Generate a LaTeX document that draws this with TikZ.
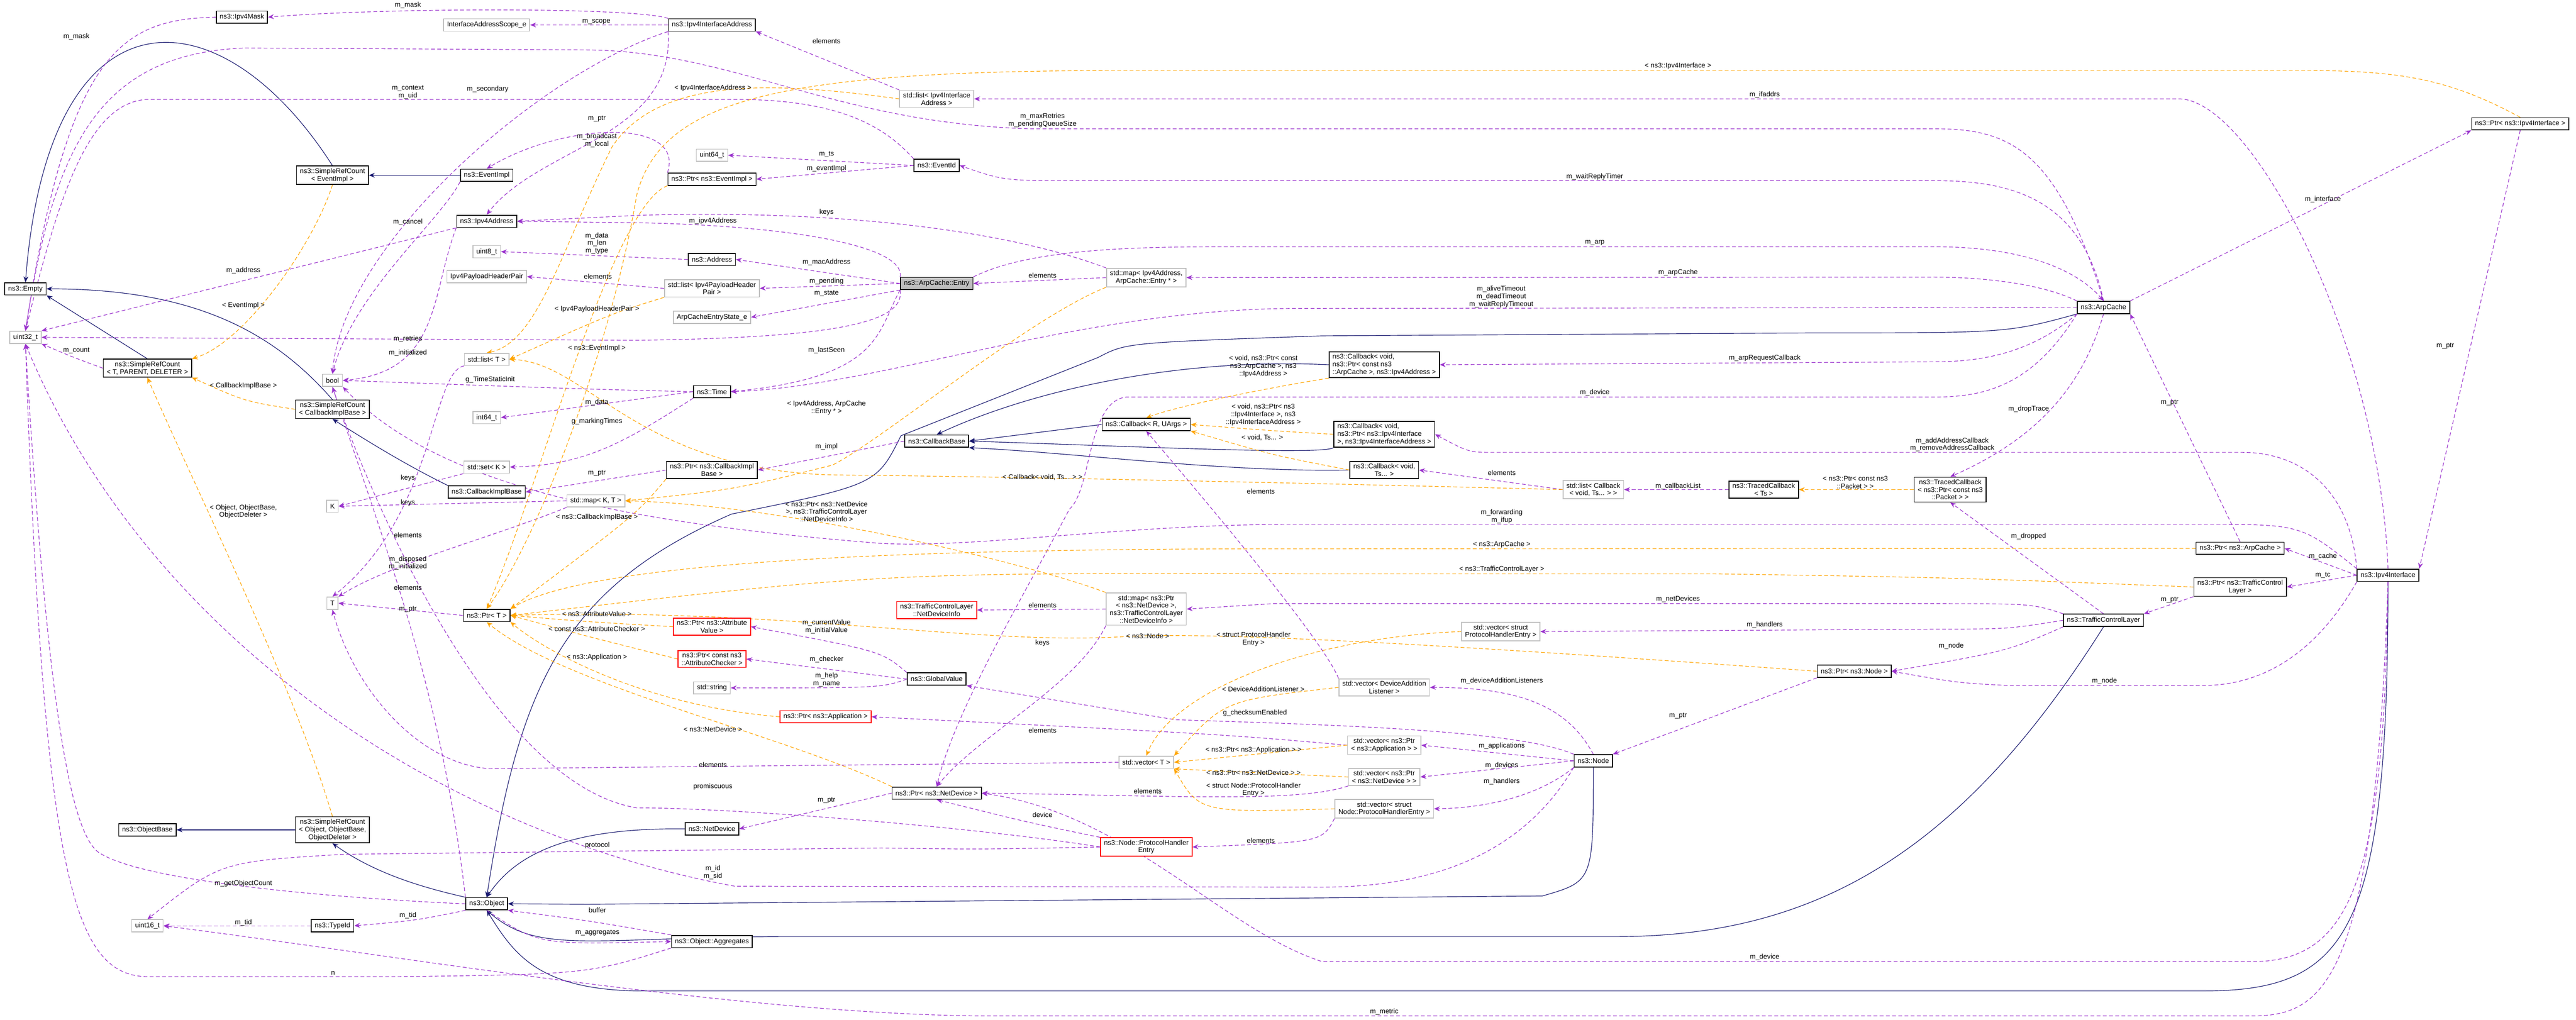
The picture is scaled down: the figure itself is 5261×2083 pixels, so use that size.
\documentclass[tikz,border=0pt]{standalone}
\usepackage{fontspec}
\setmainfont{Liberation Sans}
\usetikzlibrary{arrows.meta}
\pgfdeclarelayer{edges}
\pgfdeclarelayer{bg}
\pgfsetlayers{bg,edges,main}
\definecolor{mem}{HTML}{9A32CD}
\definecolor{tpl}{HTML}{FFA500}
\definecolor{inh}{HTML}{191970}
\tikzset{
  base/.style={font=\fontsize{4}{4.4}\selectfont, align=center, inner xsep=2pt, inner ysep=1.3pt, minimum height=0.25cm, fill=white},
  cls/.style={base, draw=black, line width=0.5pt},
  gry/.style={base, draw=black!25, line width=0.5pt},
  red/.style={base, draw=red, line width=0.5pt},
  sel/.style={base, draw=black, fill=black!25, line width=0.5pt},
  lbl/.style={font=\fontsize{4}{4.4}\selectfont, align=center, inner sep=0pt},
  memb/.style={draw=mem, line width=0.35pt, dash pattern=on 2.2pt off 1.4pt, -{Stealth[length=3.4pt,width=2.8pt]}},
  tmpl/.style={draw=tpl, line width=0.35pt, dash pattern=on 2.2pt off 1.4pt, -{Stealth[length=3.4pt,width=2.8pt]}},
  inhr/.style={draw=inh, line width=0.35pt, -{Stealth[length=3.4pt,width=2.8pt]}},
}
\begin{document}
\begin{tikzpicture}[x=0.01cm,y=-0.01cm]
\begin{pgfonlayer}{bg}
\fill[white] (0,0) rectangle (5261,2083);
\end{pgfonlayer}
\useasboundingbox (0,0) rectangle (5261,2083);
% nodes
\node[cls] (ipv4mask) at (494,35) {ns3::Ipv4Mask};
\node[gry] (scope) at (994,51) {InterfaceAddressScope\_e};
\node[cls] (srcev) at (679,358) {ns3::SimpleRefCount\\< EventImpl >};
\node[cls] (eventimpl) at (994,358) {ns3::EventImpl};
\node[cls] (ipv4addr) at (994,452) {ns3::Ipv4Address};
\node[gry] (uint8) at (994,514) {uint8\_t};
\node[gry] (phpair) at (994,565) {Ipv4PayloadHeaderPair};
\node[cls] (empty) at (52,590) {ns3::Empty};
\node[gry] (uint32) at (52,689) {uint32\_t};
\node[cls] (srctpd) at (301,752) {ns3::SimpleRefCount\\< T, PARENT, DELETER >};
\node[gry] (listT) at (994,734) {std::list< T >};
\node[gry] (bool) at (679,777) {bool};
\node[cls] (srccb) at (679,836) {ns3::SimpleRefCount\\< CallbackImplBase >};
\node[gry] (int64) at (994,853) {int64\_t};
\node[gry] (setK) at (994,954) {std::set< K >};
\node[cls] (cbimpl) at (994,1005) {ns3::CallbackImplBase};
\node[gry] (K) at (679,1034) {K};
\node[gry] (mapKT) at (1217,1023) {std::map< K, T >};
\node[cls] (ifaddr) at (1454,51) {ns3::Ipv4InterfaceAddress};
\node[gry] (listifa) at (1913,202) {std::list< Ipv4Interface\\Address >};
\node[gry] (uint64) at (1454,317) {uint64\_t};
\node[cls] (eventid) at (1913,338) {ns3::EventId};
\node[cls] (ptrev) at (1454,366) {ns3::Ptr< ns3::EventImpl >};
\node[cls] (address) at (1454,530) {ns3::Address};
\node[sel] (entry) at (1913,579) {ns3::ArpCache::Entry};
\node[gry] (listph) at (1454,589) {std::list< Ipv4PayloadHeader\\Pair >};
\node[gry] (mapip) at (2341,567) {std::map< Ipv4Address,\\ ArpCache::Entry * >};
\node[gry] (state) at (1454,648) {ArpCacheEntryState\_e};
\node[cls] (time) at (1454,800) {ns3::Time};
\node[cls] (cbR) at (2341,867) {ns3::Callback< R, UArgs >};
\node[cls] (cbbase) at (1913,901) {ns3::CallbackBase};
\node[cls] (ptrcbi) at (1454,960) {ns3::Ptr< ns3::CallbackImpl\\Base >};
\node[cls, align=left] (cbarp) at (2827,745) {ns3::Callback< void,\\ ns3::Ptr< const ns3\\::ArpCache >, ns3::Ipv4Address >};
\node[cls, align=left] (cbif) at (2827,887) {ns3::Callback< void,\\ ns3::Ptr< ns3::Ipv4Interface\\ >, ns3::Ipv4InterfaceAddress >};
\node[cls] (cbts) at (2827,960) {ns3::Callback< void,\\ Ts... >};
\node[gry] (listcb) at (3254,1000) {std::list< Callback\\< void, Ts... > >};
\node[cls] (tcts) at (3602,1000) {ns3::TracedCallback\\< Ts >};
\node[cls] (ptrif) at (5147,253) {ns3::Ptr< ns3::Ipv4Interface >};
\node[cls] (arpcache) at (4296,628) {ns3::ArpCache};
\node[cls] (tcpkt) at (3983,1000) {ns3::TracedCallback\\< ns3::Ptr< const ns3\\::Packet > >};
\node[gry] (T) at (679,1232) {T};
\node[cls] (ptrT) at (994,1257) {ns3::Ptr< T >};
\node[cls] (objbase) at (301,1695) {ns3::ObjectBase};
\node[cls] (srcobj) at (679,1695) {ns3::SimpleRefCount\\< Object, ObjectBase,\\ ObjectDeleter >};
\node[cls] (object) at (994,1846) {ns3::Object};
\node[gry] (uint16) at (301,1891) {uint16\_t};
\node[cls] (typeid) at (679,1891) {ns3::TypeId};
\node[red] (ndinfo) at (1913,1246) {ns3::TrafficControlLayer\\::NetDeviceInfo};
\node[gry] (mapnd) at (2341,1244) {std::map< ns3::Ptr\\< ns3::NetDevice >,\\ ns3::TrafficControlLayer\\::NetDeviceInfo >};
\node[red] (ptrav) at (1454,1280) {ns3::Ptr< ns3::Attribute\\Value >};
\node[red] (ptrac) at (1454,1346) {ns3::Ptr< const ns3\\::AttributeChecker >};
\node[cls] (globalv) at (1913,1387) {ns3::GlobalValue};
\node[gry] (string) at (1454,1405) {std::string};
\node[red] (ptrapp) at (1686,1464) {ns3::Ptr< ns3::Application >};
\node[gry] (vecT) at (2341,1557) {std::vector< T >};
\node[cls] (ptrnd) at (1913,1620) {ns3::Ptr< ns3::NetDevice >};
\node[cls] (netdev) at (1454,1693) {ns3::NetDevice};
\node[red] (phe) at (2341,1730) {ns3::Node::ProtocolHandler\\Entry};
\node[cls] (aggr) at (1454,1923) {ns3::Object::Aggregates};
\node[gry] (vecphe) at (3065,1290) {std::vector< struct\\ ProtocolHandlerEntry >};
\node[cls] (ptrnode) at (3787,1371) {ns3::Ptr< ns3::Node >};
\node[gry] (vecdal) at (2827,1404) {std::vector< DeviceAddition\\Listener >};
\node[gry] (vecapp) at (2827,1522) {std::vector< ns3::Ptr\\< ns3::Application > >};
\node[cls] (node) at (3254,1554) {ns3::Node};
\node[gry] (vecnd) at (2827,1587) {std::vector< ns3::Ptr\\< ns3::NetDevice > >};
\node[gry] (vecnphe) at (2827,1652) {std::vector< struct\\ Node::ProtocolHandlerEntry >};
\node[cls] (ptrarp) at (4575,1120) {ns3::Ptr< ns3::ArpCache >};
\node[cls] (ptrtc) at (4575,1199) {ns3::Ptr< ns3::TrafficControl\\Layer >};
\node[cls] (tcl) at (4296,1267) {ns3::TrafficControlLayer};
\node[cls] (ipv4if) at (4877,1175) {ns3::Ipv4Interface};

\begin{pgfonlayer}{edges}
% inheritance
\draw[inhr] (srcev.north) .. controls (450,-20) and (100,-40) .. (empty.north);
\draw[inhr] (eventimpl) -- (srcev);
\draw[inhr] (srctpd.north) -- (empty.south east);
\draw[inhr] (srccb.north) .. controls (560,680) and (400,590) .. (empty.east);
\draw[inhr] (cbimpl.north west) .. controls (850,960) and (780,920) .. (srccb.south);
\draw[inhr] (srcobj) -- (objbase);
\draw[inhr] (object.north west) .. controls (850,1810) and (760,1780) .. (srcobj.south);
\draw[inhr] (netdev.west) .. controls (1150,1690) and (1050,1750) .. (object.north);
\draw[inhr] (arpcache.south west) .. controls (4100,680) .. (3700,680) -- (2700,686) .. controls (2300,700) .. (2243,730) -- (1840,890) .. controls (1790,990) .. (1494,1050) .. controls (1150,1200) and (1060,1400) .. (object.north);
\draw[inhr] (node.south) .. controls (3254,1800) .. (3150,1830) -- (1200,1847) -- (object.east);
\draw[inhr] (tcl.south) .. controls (4000,1750) and (3700,1913) .. (3300,1913) -- (1600,1913) .. controls (1200,1915) and (1100,1950) .. (object.south);
\draw[inhr] (ipv4if.south) .. controls (4877,1900) and (4800,2024) .. (4500,2024) -- (1300,2024) .. controls (1100,2020) and (1050,1950) .. (object.south);
\draw[inhr] (cbR.west) -- (cbbase.east);
\draw[inhr] (cbarp.west) .. controls (2400,730) and (2100,800) .. (cbbase.north);
\draw[inhr] (cbif.south west) .. controls (2700,930) and (2300,911) .. (cbbase.east);
\draw[inhr] (cbts.west) .. controls (2500,965) and (2200,925) .. (cbbase.south east);

% members
\draw[memb] (ifaddr.north west) .. controls (1300,15) and (800,15) .. (ipv4mask.east);
\draw[memb] (ifaddr.west) -- (scope.east);
\draw[memb] (ipv4mask.west) .. controls (250,40) and (140,100) .. (uint32.north);
\draw[memb] (ifaddr.south west) .. controls (1380,280) and (1100,300) .. (ipv4addr.north);
\draw[memb] (ifaddr.south west) .. controls (1100,150) and (700,500) .. (bool.north);
\draw[memb] (eventid.north west) .. controls (1800,250) and (1700,203) .. (1500,203) -- (300,203) .. controls (180,210) and (120,400) .. (uint32.north);
\draw[memb] (ptrev.north west) .. controls (1400,240) and (1150,250) .. (eventimpl.north);
\draw[memb] (eventimpl.south west) .. controls (900,450) and (720,600) .. (bool.north);
\draw[memb] (ipv4addr.south west) -- (uint32.north east);
\draw[memb] (ipv4addr.south west) .. controls (880,600) and (900,760) .. (bool.east);
\draw[memb] (address.west) -- (uint8.east);
\draw[memb] (listph.west) -- (phpair.east);
\draw[memb] (entry.south west) .. controls (1850,660) and (1700,690) .. (1300,695) -- (uint32.east);
\draw[memb] (time.west) .. controls (1200,795) .. (bool.east);
\draw[memb] (time.west) -- (int64.east);
\draw[memb] (time.south west) .. controls (1280,900) and (1200,950) .. (setK.east);
\draw[memb] (setK.south west) -- (K.east);
\draw[memb] (mapKT.west) -- (K.east);
\draw[memb] (ptrcbi.west) -- (cbimpl.east);
\draw[memb] (listT.south west) .. controls (880,760) and (890,1050) .. (T.north);
\draw[memb] (object.north west) .. controls (900,1400) and (780,1100) .. (bool.south);
\draw[memb] (mapKT.south west) .. controls (1000,1100) and (800,1150) .. (T.north east);
\draw[memb] (ptrT.west) -- (T.east);
\draw[memb] (vecT.west) -- (1000,1570) .. controls (850,1560) and (720,1400) .. (T.south);
\draw[memb] (listifa.north west) -- (ifaddr.south east);
\draw[memb] (eventid.west) -- (uint64.east);
\draw[memb] (eventid.west) -- (ptrev.east);
\draw[memb] (mapip.north west) .. controls (2000,450) and (1600,430) .. (1300,440) -- (ipv4addr.east);
\draw[memb] (entry.north west) .. controls (1850,500) and (1600,460) .. (1300,455) -- (ipv4addr.east);
\draw[memb] (entry.west) -- (address.east);
\draw[memb] (entry.west) -- (listph.east);
\draw[memb] (entry.south west) -- (state.east);
\draw[memb] (mapip.west) -- (entry.east);
\draw[memb] (entry.south west) .. controls (1790,680) and (1800,770) .. (time.east);
\draw[memb] (cbbase.west) -- (ptrcbi.east);
\draw[memb] (arpcache.north) .. controls (4200,300) and (4100,263) .. (3950,263) -- (2100,263) .. controls (1700,250) and (1500,105) .. (1200,102) -- (500,98) .. controls (200,110) and (110,300) .. (uint32.north);
\draw[memb] (arpcache.north) .. controls (4250,400) and (4100,369) .. (3950,369) -- (2200,369) .. controls (2050,369) .. (eventid.east);
\draw[memb] (entry.north east) .. controls (2100,510) and (2300,504) .. (2500,504) -- (3950,504) .. controls (4150,504) and (4250,560) .. (arpcache.north);
\draw[memb] (arpcache.north west) .. controls (4150,570) and (4000,566) .. (3950,566) -- (mapip.east);
\draw[memb] (arpcache.west) -- (2650,630) .. controls (2200,630) and (1800,790) .. (time.east);
\draw[memb] (arpcache.south west) .. controls (4150,720) and (4050,739) .. (3950,739) -- (cbarp.east);
\draw[memb] (arpcache.south west) .. controls (4150,790) and (4050,811) .. (3950,811) -- (2300,811) .. controls (2220,820) and (2230,1000) .. (2184,1040) .. controls (2100,1200) and (1950,1450) .. (ptrnd.north);
\draw[memb] (arpcache.north east) -- (ptrif.south west);
\draw[memb] (arpcache.south) .. controls (4250,800) and (4150,900) .. (tcpkt.north);
\draw[memb] (ptrarp.north) -- (arpcache.south east);
\draw[memb] (ptrif.south) -- (ipv4if.north east);
\draw[memb] (ipv4if.north) .. controls (4860,700) and (4600,202) .. (4450,202) -- (listifa.east);
\draw[memb] (ipv4if.north west) .. controls (4800,1000) and (4700,924) .. (4580,924) -- (3050,924) .. controls (3000,924) .. (cbif.east);
\draw[memb] (ipv4if.north west) .. controls (4700,1071) .. (4500,1071) -- (2650,1071) .. controls (2300,1070) and (2000,1120) .. (1800,1110) .. controls (1300,1070) and (900,1000) .. (bool.south east);
\draw[memb] (tcl.north) -- (tcpkt.south);
\draw[memb] (ipv4if.west) -- (ptrarp.east);
\draw[memb] (ipv4if.west) -- (ptrtc.east);
\draw[memb] (ptrtc.south west) -- (tcl.north east);
\draw[memb] (tcl.south west) .. controls (4100,1330) .. (ptrnode.east);
\draw[memb] (ipv4if.south west) .. controls (4750,1300) and (4650,1400) .. (4500,1400) -- (4100,1400) .. controls (4000,1395) .. (ptrnode.east);
\draw[memb] (tcl.north west) .. controls (4150,1233) .. (3950,1233) -- (2600,1233) -- (mapnd.east);
\draw[memb] (tcl.west) .. controls (4100,1285) .. (3950,1285) -- (vecphe.east);
\draw[memb] (tcts.west) -- (listcb.east);
\draw[memb] (listcb.west) -- (cbts.east);
\draw[memb] (ptrnode.south west) -- (node.north east);
\draw[memb] (node.north) .. controls (3200,1440) and (3100,1404) .. (vecdal.east);
\draw[memb] (node.west) -- (vecapp.east);
\draw[memb] (node.west) -- (vecnd.east);
\draw[memb] (node.south west) .. controls (3150,1620) and (3050,1650) .. (vecnphe.east);
\draw[memb] (node.north west) .. controls (3100,1490) and (2700,1480) .. (2400,1470) -- (globalv.south east);
\draw[memb] (node.south west) .. controls (3100,1760) and (2900,1812) .. (2700,1812) -- (1500,1810) .. controls (900,1700) and (300,1300) .. (uint32.south);
\draw[memb] (ipv4if.south) .. controls (4870,1800) and (4800,1964) .. (4600,1964) -- (2700,1964) .. controls (2500,1900) and (2300,1660) .. (ptrnd.east);
\draw[memb] (ipv4if.south) .. controls (4850,2000) and (4750,2075) .. (4600,2075) -- (2000,2075) .. controls (1500,2070) and (800,1950) .. (uint16.east);
\draw[memb] (globalv.north west) .. controls (1800,1330) .. (ptrav.east);
\draw[memb] (globalv.west) -- (ptrac.east);
\draw[memb] (globalv.west) .. controls (1800,1405) .. (string.east);
\draw[memb] (vecapp.west) .. controls (2500,1500) .. (ptrapp.east);
\draw[memb] (mapnd.west) -- (ndinfo.east);
\draw[memb] (mapnd.south west) .. controls (2200,1400) and (2000,1500) .. (ptrnd.north);
\draw[memb] (vecnd.south west) .. controls (2650,1640) and (2400,1625) .. (ptrnd.east);
\draw[memb] (vecdal.north west) .. controls (2700,1300) and (2400,950) .. (cbR.south);
\draw[memb] (vecnphe.south west) .. controls (2700,1720) .. (phe.east);
\draw[memb] (phe.north west) .. controls (2100,1680) .. (ptrnd.south);
\draw[memb] (ptrnd.west) -- (netdev.east);
\draw[memb] (phe.west) .. controls (2000,1690) and (1500,1650) .. (1300,1650) .. controls (1000,1600) and (750,1000) .. (bool.south);
\draw[memb] (phe.west) .. controls (2000,1735) .. (1800,1732) -- (700,1745) .. controls (450,1760) .. (uint16.north);
\draw[memb] (object.west) .. controls (800,1840) and (300,1810) .. (200,1740) .. controls (150,1700) and (100,1500) .. (uint32.south);
\draw[memb] (object.south west) .. controls (850,1880) .. (typeid.east);
\draw[memb] (typeid.west) -- (uint16.east);
\draw[memb] (aggr.north west) .. controls (1200,1880) .. (object.south east);
\draw[memb] (object.south) .. controls (1100,1930) .. (aggr.west);
\draw[memb] (aggr.south west) .. controls (1200,1990) .. (800,1995) -- (300,1995) .. controls (150,1990) and (90,1800) .. (uint32.south);
\draw[memb] (srctpd.west) .. controls (150,730) .. (uint32.south east);

% templates
\draw[tmpl] (srcev.south) .. controls (640,500) and (500,700) .. (srctpd.north east);
\draw[tmpl] (srccb.west) .. controls (500,820) .. (srctpd.south east);
\draw[tmpl] (srcobj.north) .. controls (600,1400) and (400,1000) .. (srctpd.south);
\draw[tmpl] (listifa.west) .. controls (1600,170) and (1350,150) .. (1250,300) .. controls (1150,500) and (1100,700) .. (listT.north);
\draw[tmpl] (listph.south west) .. controls (1250,640) .. (listT.east);
\draw[tmpl] (listcb.west) .. controls (3000,995) and (2200,975) .. (1700,970) .. controls (1300,960) and (1200,740) .. (listT.east);
\draw[tmpl] (mapip.south west) .. controls (2100,650) and (1800,900) .. (1700,950) .. controls (1500,1000) .. (mapKT.east);
\draw[tmpl] (mapnd.north west) .. controls (2100,1150) and (1600,1030) .. (mapKT.east);
\draw[tmpl] (ptrev.south west) .. controls (1250,420) and (1100,1000) .. (ptrT.north);
\draw[tmpl] (ptrcbi.south west) .. controls (1300,1050) .. (ptrT.north east);
\draw[tmpl] (ptrav.west) .. controls (1200,1270) .. (ptrT.east);
\draw[tmpl] (ptrac.west) .. controls (1200,1300) .. (ptrT.east);
\draw[tmpl] (ptrapp.west) .. controls (1300,1440) and (1100,1320) .. (ptrT.south east);
\draw[tmpl] (ptrnd.north west) .. controls (1600,1500) and (1150,1400) .. (ptrT.south);
\draw[tmpl] (ptrnode.west) .. controls (3000,1320) and (2500,1290) .. (2300,1300) .. controls (2000,1320) and (1600,1240) .. (ptrT.east);
\draw[tmpl] (ptrarp.west) -- (2650,1121) .. controls (1800,1120) and (1200,1150) .. (ptrT.north east);
\draw[tmpl] (ptrtc.west) .. controls (4000,1180) .. (3500,1172) -- (2650,1172) .. controls (1800,1170) .. (ptrT.east);
\draw[tmpl] (ptrif.north) .. controls (5000,160) and (4900,144) .. (4700,144) -- (2300,144) .. controls (1600,144) and (1350,200) .. (1300,400) .. controls (1250,700) and (1100,1100) .. (ptrT.north);
\draw[tmpl] (cbarp.south west) .. controls (2600,790) and (2400,830) .. (cbR.north);
\draw[tmpl] (cbif.west) .. controls (2600,880) .. (cbR.east);
\draw[tmpl] (cbts.west) .. controls (2600,930) .. (cbR.south east);
\draw[tmpl] (tcpkt.west) -- (tcts.east);
\draw[tmpl] (vecphe.west) .. controls (2700,1300) and (2400,1400) .. (vecT.north);
\draw[tmpl] (vecdal.west) .. controls (2500,1430) .. (vecT.north east);
\draw[tmpl] (vecapp.west) -- (vecT.east);
\draw[tmpl] (vecnd.west) -- (vecT.south east);
\draw[tmpl] (vecnphe.west) .. controls (2450,1660) .. (vecT.south east);
\end{pgfonlayer}

% labels
\node[lbl] (l1) at (833,11) {m\_mask};
\node[lbl] (l2) at (156,75) {m\_mask};
\node[lbl] (l3) at (1218,44) {m\_scope};
\node[lbl] (l4) at (833,188) {m\_context\\m\_uid};
\node[lbl] (l5) at (996,182) {m\_secondary};
\node[lbl] (l6) at (1219,243) {m\_ptr};
\node[lbl] (l7) at (1219,287) {m\_broadcast\\m\_local};
\node[lbl] (l8) at (833,454) {m\_cancel};
\node[lbl] (l9) at (497,552) {m\_address};
\node[lbl] (l10) at (1219,497) {m\_data\\m\_len\\m\_type};
\node[lbl] (l11) at (1221,565) {elements};
\node[lbl] (l12) at (497,624) {< EventImpl >};
\node[lbl] (l13) at (1219,631) {< Ipv4PayloadHeaderPair >};
\node[lbl] (l14) at (833,692) {m\_retries};
\node[lbl] (l15) at (833,721) {m\_initialized};
\node[lbl] (l16) at (1219,711) {< ns3::EventImpl >};
\node[lbl] (l17) at (156,716) {m\_count};
\node[lbl] (l18) at (497,788) {< CallbackImplBase >};
\node[lbl] (l19) at (1001,775) {g\_TimeStaticInit};
\node[lbl] (l20) at (1219,822) {m\_data};
\node[lbl] (l21) at (1219,861) {g\_markingTimes};
\node[lbl] (l22) at (833,976) {keys};
\node[lbl] (l23) at (1219,966) {m\_ptr};
\node[lbl] (l24) at (833,1027) {keys};
\node[lbl] (l25) at (497,1045) {< Object, ObjectBase,\\ObjectDeleter >};
\node[lbl] (l26) at (1688,84) {elements};
\node[lbl] (l27) at (1456,180) {< Ipv4InterfaceAddress >};
\node[lbl] (l28) at (2129,246) {m\_maxRetries\\m\_pendingQueueSize};
\node[lbl] (l29) at (1688,315) {m\_ts};
\node[lbl] (l30) at (1688,344) {m\_eventImpl};
\node[lbl] (l31) at (1688,434) {keys};
\node[lbl] (l32) at (1456,451) {m\_ipv4Address};
\node[lbl] (l33) at (1688,536) {m\_macAddress};
\node[lbl] (l34) at (2129,563) {elements};
\node[lbl] (l35) at (1688,575) {m\_pending};
\node[lbl] (l36) at (1688,599) {m\_state};
\node[lbl] (l37) at (1688,715) {m\_lastSeen};
\node[lbl] (l38) at (1688,833) {< Ipv4Address, ArpCache\\::Entry * >};
\node[lbl] (l39) at (1688,912) {m\_impl};
\node[lbl] (l40) at (2129,975) {< Callback< void, Ts... > >};
\node[lbl] (l41) at (1688,1045) {< ns3::Ptr< ns3::NetDevice\\>, ns3::TrafficControlLayer\\::NetDeviceInfo >};
\node[lbl] (l42) at (2580,748) {< void, ns3::Ptr< const\\ns3::ArpCache >, ns3\\::Ipv4Address >};
\node[lbl] (l43) at (2580,847) {< void, ns3::Ptr< ns3\\::Ipv4Interface >, ns3\\::Ipv4InterfaceAddress >};
\node[lbl] (l44) at (2578,894) {< void, Ts... >};
\node[lbl] (l45) at (2575,1003) {elements};
\node[lbl] (l46) at (3427,135) {< ns3::Ipv4Interface >};
\node[lbl] (l47) at (3604,194) {m\_ifaddrs};
\node[lbl] (l48) at (3257,361) {m\_waitReplyTimer};
\node[lbl] (l49) at (3257,496) {m\_arp};
\node[lbl] (l50) at (3427,557) {m\_arpCache};
\node[lbl] (l51) at (3066,606) {m\_aliveTimeout\\m\_deadTimeout\\m\_waitReplyTimeout};
\node[lbl] (l52) at (3604,731) {m\_arpRequestCallback};
\node[lbl] (l53) at (3257,802) {m\_device};
\node[lbl] (l54) at (3987,908) {m\_addAddressCallback\\m\_removeAddressCallback};
\node[lbl] (l55) at (3067,966) {elements};
\node[lbl] (l56) at (3427,993) {m\_callbackList};
\node[lbl] (l57) at (3789,985) {< ns3::Ptr< const ns3\\::Packet > >};
\node[lbl] (l58) at (3067,1055) {m\_forwarding\\m\_ifup};
\node[lbl] (l59) at (4744,407) {m\_interface};
\node[lbl] (l60) at (4994,707) {m\_ptr};
\node[lbl] (l61) at (4143,836) {m\_dropTrace};
\node[lbl] (l62) at (4431,822) {m\_ptr};
\node[lbl] (l63) at (3067,1112) {< ns3::ArpCache >};
\node[lbl] (l64) at (3067,1163) {< ns3::TrafficControlLayer >};
\node[lbl] (l65) at (3427,1224) {m\_netDevices};
\node[lbl] (l66) at (3604,1276) {m\_handlers};
\node[lbl] (l67) at (3067,1391) {m\_deviceAdditionListeners};
\node[lbl] (l68) at (3427,1462) {m\_ptr};
\node[lbl] (l69) at (3067,1524) {m\_applications};
\node[lbl] (l70) at (3067,1564) {m\_devices};
\node[lbl] (l71) at (3067,1596) {m\_handlers};
\node[lbl] (l72) at (3604,1955) {m\_device};
\node[lbl] (l73) at (2827,2067) {m\_metric};
\node[lbl] (l74) at (4143,1095) {m\_dropped};
\node[lbl] (l75) at (4744,1136) {m\_cache};
\node[lbl] (l76) at (4744,1175) {m\_tc};
\node[lbl] (l77) at (4431,1225) {m\_ptr};
\node[lbl] (l78) at (3985,1319) {m\_node};
\node[lbl] (l79) at (4298,1391) {m\_node};
\node[lbl] (l80) at (2129,1236) {elements};
\node[lbl] (l81) at (1688,1280) {m\_currentValue\\m\_initialValue};
\node[lbl] (l82) at (2344,1299) {< ns3::Node >};
\node[lbl] (l83) at (2129,1313) {keys};
\node[lbl] (l84) at (2560,1305) {< struct ProtocolHandler\\Entry >};
\node[lbl] (l85) at (1688,1347) {m\_checker};
\node[lbl] (l86) at (1688,1388) {m\_help\\m\_name};
\node[lbl] (l87) at (2580,1408) {< DeviceAdditionListener >};
\node[lbl] (l88) at (2563,1456) {g\_checksumEnabled};
\node[lbl] (l89) at (2129,1492) {elements};
\node[lbl] (l90) at (1456,1490) {< ns3::NetDevice >};
\node[lbl] (l91) at (2560,1532) {< ns3::Ptr< ns3::Application > >};
\node[lbl] (l92) at (1456,1562) {elements};
\node[lbl] (l93) at (2560,1578) {< ns3::Ptr< ns3::NetDevice > >};
\node[lbl] (l94) at (2560,1613) {< struct Node::ProtocolHandler\\Entry >};
\node[lbl] (l95) at (2344,1616) {elements};
\node[lbl] (l96) at (1456,1607) {promiscuous};
\node[lbl] (l97) at (1688,1635) {m\_ptr};
\node[lbl] (l98) at (2129,1664) {device};
\node[lbl] (l99) at (2575,1717) {elements};
\node[lbl] (l100) at (1220,1727) {protocol};
\node[lbl] (l101) at (1456,1782) {m\_id\\m\_sid};
\node[lbl] (l102) at (1220,1859) {buffer};
\node[lbl] (l103) at (1220,1905) {m\_aggregates};
\node[lbl] (l104) at (680,1987) {n};
\node[lbl] (l105) at (497,1805) {m\_getObjectCount};
\node[lbl] (l106) at (497,1884) {m\_tid};
\node[lbl] (l107) at (833,1870) {m\_tid};
\node[lbl] (l108) at (833,1093) {elements};
\node[lbl] (l109) at (833,1150) {m\_disposed\\m\_initialized};
\node[lbl] (l110) at (833,1200) {elements};
\node[lbl] (l111) at (833,1244) {m\_ptr};
\node[lbl] (l112) at (1219,1056) {< ns3::CallbackImplBase >};
\node[lbl] (l113) at (1219,1254) {< ns3::AttributeValue >};
\node[lbl] (l114) at (1219,1284) {< const ns3::AttributeChecker >};
\node[lbl] (l115) at (1219,1343) {< ns3::Application >};
\end{tikzpicture}
\end{document}
